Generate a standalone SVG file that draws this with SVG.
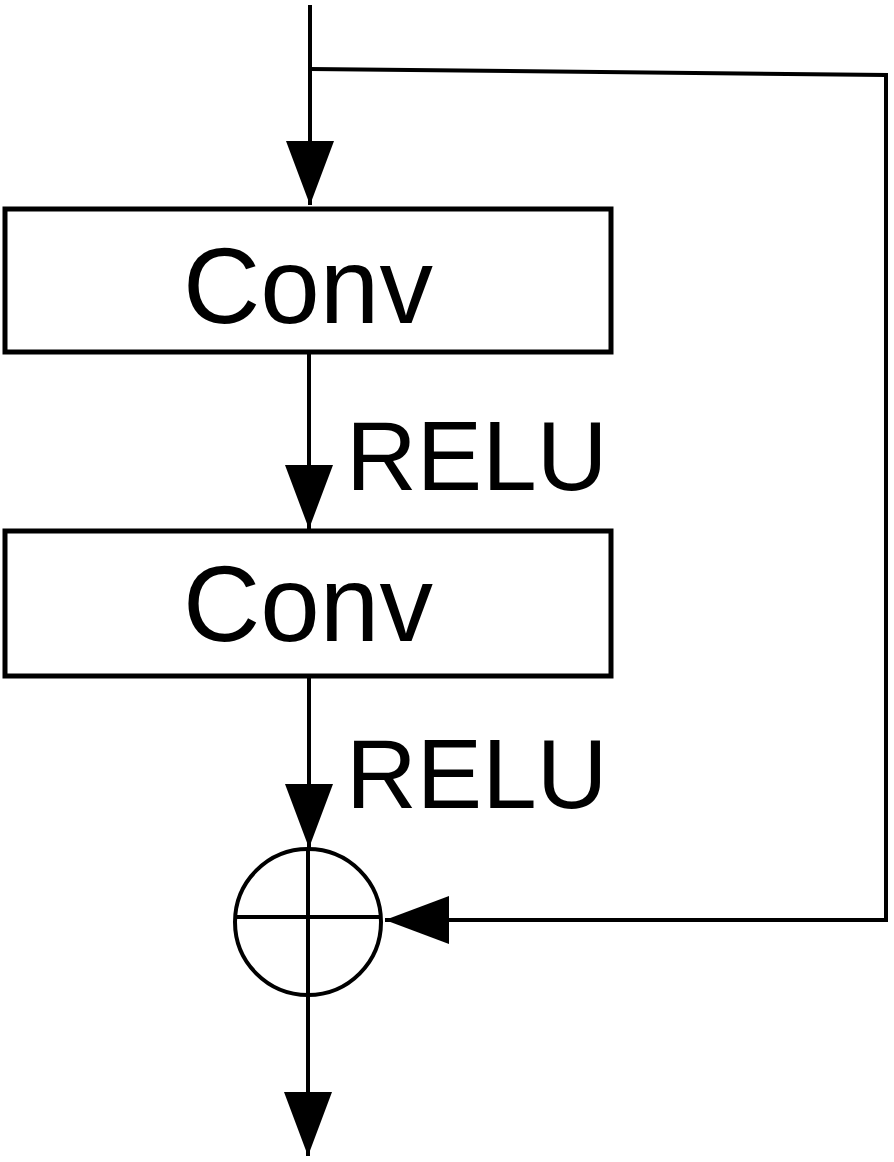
<svg xmlns="http://www.w3.org/2000/svg" width="894" height="1162" viewBox="0 0 894 1162">
<style>
.box{fill:#fff;stroke:#000;stroke-width:5}
.lbl{font-family:"Liberation Sans",Arial,sans-serif;fill:#000}
.conv{font-size:107px}
.relu{font-size:98px}
.wire{fill:none;stroke:#000;stroke-width:4}
</style>
<defs>
<marker id="ah" viewBox="0 0 64 48" markerWidth="64" markerHeight="48" refX="64" refY="24" orient="auto" markerUnits="userSpaceOnUse">
<path d="M0 0 L64 24 L0 48 Z" fill="#000"/>
</marker>
</defs>
<rect width="894" height="1162" fill="#fff"/>
<g id="connectors">
<path class="wire" d="M310 5 V205" marker-end="url(#ah)"/>
<path class="wire" d="M309 352 V529" marker-end="url(#ah)"/>
<path class="wire" d="M309 676 V848" marker-end="url(#ah)"/>
<path class="wire" d="M308 996 V1156" marker-end="url(#ah)"/>
<path class="wire" d="M310 69 L886 75 V920 H385" marker-end="url(#ah)"/>
</g>
<g id="conv1">
<rect class="box" x="5" y="209" width="606" height="143"/>
<text class="lbl conv" x="308" y="323" text-anchor="middle">Conv</text>
</g>
<g id="relu1">
<text class="lbl relu" x="346" y="490">RELU</text>
</g>
<g id="conv2">
<rect class="box" x="5" y="531" width="606" height="145"/>
<text class="lbl conv" x="308" y="641" text-anchor="middle">Conv</text>
</g>
<g id="relu2">
<text class="lbl relu" x="346" y="808">RELU</text>
</g>
<g id="add">
<circle cx="308" cy="922" r="73" fill="#fff" stroke="#000" stroke-width="4"/>
<line x1="235" y1="917" x2="381" y2="917" stroke="#000" stroke-width="4"/>
<line x1="308" y1="849" x2="308" y2="995" stroke="#000" stroke-width="4"/>
</g>
</svg>
